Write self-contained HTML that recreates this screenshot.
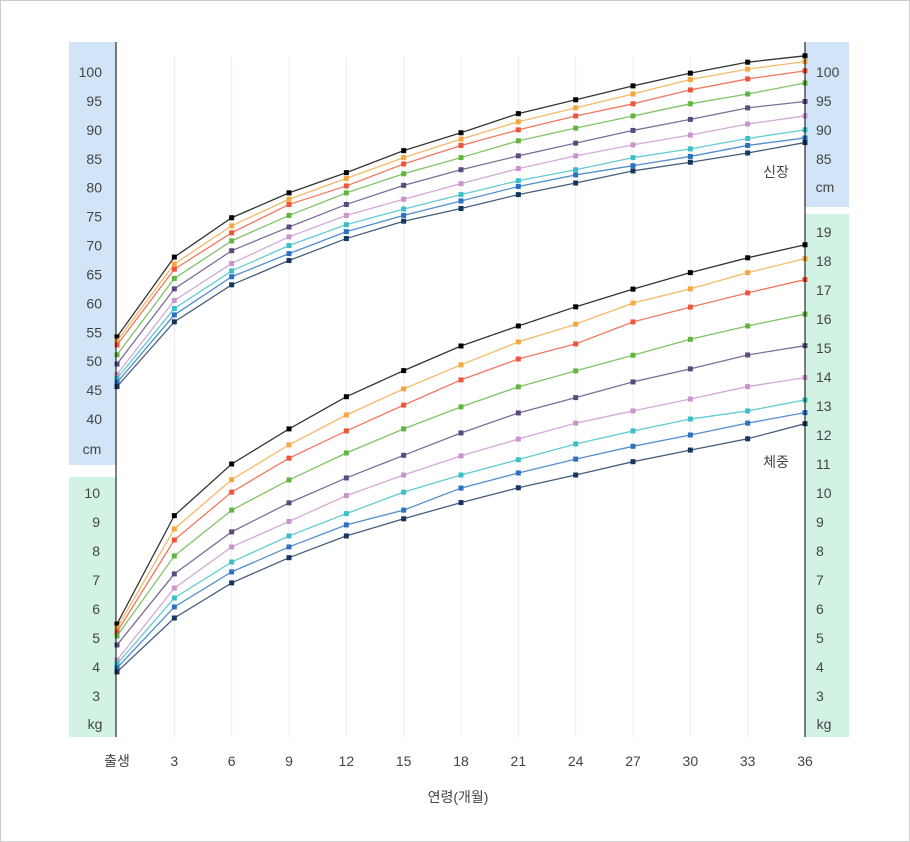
<!DOCTYPE html>
<html><head><meta charset="utf-8"><style>
body{margin:0;background:#fff;overflow:hidden}
svg{display:block;font-family:"Liberation Sans","Noto Sans CJK KR",sans-serif}
</style></head><body>
<svg id="chart" width="910" height="842">
<rect x="0.5" y="0.5" width="909" height="841" fill="#fff" stroke="#ccc"/>
<rect x="69" y="42" width="47" height="423" fill="#d2e5f8"/>
<rect x="69" y="477" width="47" height="260" fill="#d2f3e3"/>
<rect x="805" y="42" width="44" height="165" fill="#d2e5f8"/>
<rect x="805" y="214" width="44" height="523" fill="#d2f3e3"/>
<g id="grid"></g>
<g id="series"></g>
<g id="labels" font-size="14" fill="#444"></g>
<line x1="116" y1="42" x2="116" y2="737" stroke="#000"/>
<line x1="805" y1="42" x2="805" y2="737" stroke="#000"/>
<text x="776" y="177" font-size="14" fill="#444" text-anchor="middle">신장</text>
<text x="776" y="467" font-size="14" fill="#444" text-anchor="middle">체중</text>
<text x="92" y="454" font-size="14" fill="#444" text-anchor="middle">cm</text>
<text x="95" y="729" font-size="14" fill="#444" text-anchor="middle">kg</text>
<text x="825" y="192" font-size="14" fill="#444" text-anchor="middle">cm</text>
<text x="824" y="729" font-size="14" fill="#444" text-anchor="middle">kg</text>
<text x="458" y="802" font-size="14" fill="#444" text-anchor="middle">연령(개월)</text>
</svg>
<script>
const months=[0,3,6,9,12,15,18,21,24,27,30,33,36];
const xTickLabels=["출생","3","6","9","12","15","18","21","24","27","30","33","36"];
const heightTicks=[40,45,50,55,60,65,70,75,80,85,90,95,100];
const heightTicksRight=[85,90,95,100];
const weightTicksLeft=[3,4,5,6,7,8,9,10];
const weightTicksRight=[3,4,5,6,7,8,9,10,11,12,13,14,15,16,17,18,19];
const colors=["#000000","#f5a742","#ef553a","#62b541","#5b4a7f","#c994cc","#3cbfc8","#2b72c0","#17365d"];
const seriesNames=["p97","p95","p90","p75","p50","p25","p10","p5","p3"];
const heightBlack=[54.2,68.0,74.8,79.1,82.6,86.4,89.5,92.8,95.2,97.6,99.8,101.7,102.8];
const heightOrange=[53.5,66.8,73.4,78.0,81.6,85.2,88.4,91.4,93.8,96.2,98.7,100.5,101.8];
const heightRed=[52.8,65.9,72.2,77.1,80.3,84.1,87.3,90.0,92.4,94.5,96.9,98.8,100.2];
const heightGreen=[51.1,64.3,70.8,75.2,79.1,82.4,85.2,88.1,90.3,92.4,94.5,96.2,98.1];
const heightPurple=[49.5,62.5,69.1,73.2,77.1,80.4,83.1,85.5,87.7,89.9,91.8,93.8,94.9];
const heightPink=[47.7,60.5,66.9,71.5,75.2,78.0,80.7,83.3,85.5,87.4,89.1,91.0,92.4];
const heightCyan=[47.0,59.1,65.6,70.0,73.6,76.3,78.8,81.2,83.1,85.2,86.7,88.5,90.0];
const heightBlue=[46.3,58.0,64.6,68.6,72.4,75.2,77.7,80.2,82.2,83.8,85.4,87.3,88.6];
const heightNavy=[45.6,56.8,63.2,67.4,71.2,74.2,76.4,78.8,80.8,82.9,84.4,86.0,87.8];
const weightBlack=[5.48,9.22,11.0,12.21,13.32,14.22,15.07,15.76,16.42,17.03,17.6,18.11,18.56];
const weightOrange=[5.34,8.76,10.46,11.66,12.69,13.59,14.42,15.21,15.82,16.55,17.04,17.6,18.08];
const weightRed=[5.21,8.38,10.03,11.2,12.14,13.03,13.9,14.62,15.14,15.9,16.41,16.9,17.36];
const weightGreen=[5.07,7.83,9.41,10.45,11.38,12.21,12.97,13.66,14.21,14.75,15.3,15.76,16.17];
const weightPurple=[4.76,7.21,8.66,9.66,10.52,11.3,12.07,12.76,13.29,13.83,14.28,14.76,15.08];
const weightPink=[4.24,6.72,8.14,9.02,9.91,10.62,11.28,11.86,12.41,12.83,13.24,13.67,13.98];
const weightCyan=[4.10,6.38,7.62,8.52,9.29,10.03,10.62,11.15,11.69,12.14,12.55,12.83,13.21];
const weightBlue=[3.97,6.07,7.28,8.14,8.90,9.41,10.17,10.69,11.17,11.61,12.0,12.41,12.77];
const weightNavy=[3.83,5.69,6.90,7.77,8.52,9.11,9.67,10.18,10.62,11.08,11.48,11.87,12.39];
const heightSeries=[heightBlack,heightOrange,heightRed,heightGreen,heightPurple,heightPink,heightCyan,heightBlue,heightNavy];
const weightSeries=[weightBlack,weightOrange,weightRed,weightGreen,weightPurple,weightPink,weightCyan,weightBlue,weightNavy];

const NS="http://www.w3.org/2000/svg";
function xScale(m){return 117+m*(805-117)/36;}
function yHeight(v){return 72+(100-v)*(419-72)/60;}
function yWeight(v){return 493+(10-v)*29;}
function mk(tag,attrs,parent){const e=document.createElementNS(NS,tag);for(const k in attrs)e.setAttribute(k,attrs[k]);parent.appendChild(e);return e;}
const grid=document.getElementById('grid'),series=document.getElementById('series'),labels=document.getElementById('labels');

months.forEach((m,i)=>{
  if(i>0&&i<months.length-1){
    const l=mk('line',{x1:xScale(m),x2:xScale(m),y1:57,y2:737,stroke:'#ececec'},grid);
    
    
  }
  const t=mk('text',{x:xScale(m),y:766,'text-anchor':'middle'},labels);
  t.textContent=xTickLabels[i];
  
  
});
heightTicks.forEach(v=>{
  const t=mk('text',{x:102,y:yHeight(v)+5,'text-anchor':'end'},labels);
  t.textContent=v;
  
  
});
heightTicksRight.forEach(v=>{
  const t=mk('text',{x:816,y:yHeight(v)+5},labels);
  t.textContent=v;
  
  
});
weightTicksLeft.forEach(v=>{
  const t=mk('text',{x:100,y:yWeight(v)+5,'text-anchor':'end'},labels);
  t.textContent=v;
  
  
});
weightTicksRight.forEach(v=>{
  const t=mk('text',{x:816,y:yWeight(v)+5},labels);
  t.textContent=v;
  
  
});
function drawSet(set,yf,kind){
  set.forEach((arr,si)=>{
    const pts=arr.map((v,i)=>xScale(months[i])+','+yf(v)).join(' ');
    const pl=mk('polyline',{points:pts,fill:'none',stroke:colors[si],'stroke-width':1.3,'stroke-opacity':0.8},series);
    
    
    arr.forEach((v,i)=>{
      const r=mk('rect',{x:xScale(months[i])-2.5,y:yf(v)-2.5,width:5,height:5,fill:colors[si]},series);
      
      
    });
  });
}
drawSet(heightSeries,yHeight,'height');
drawSet(weightSeries,yWeight,'weight');
</script>
</body></html>
